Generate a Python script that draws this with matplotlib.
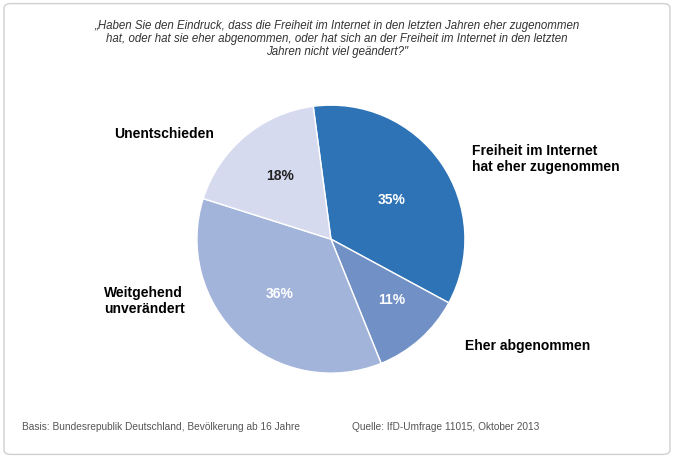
import matplotlib.pyplot as plt
from matplotlib.patches import FancyBboxPatch

labels = ["Freiheit im Internet\nhat eher zugenommen", "Eher abgenommen", "Weitgehend\nunverändert", "Unentschieden"]
values = [35, 11, 36, 18]
pct_labels = ["35%", "11%", "36%", "18%"]
colors = ["#2e73b5", "#7090c6", "#a3b4da", "#d5daef"]
pct_colors = ["white", "white", "white", "#222222"]

plt.rcParams['font.family'] = ['Liberation Sans', 'DejaVu Sans']
fig = plt.figure(figsize=(6.74, 4.6), dpi=100)
fig.patch.set_facecolor("white")
fig.patches.append(FancyBboxPatch((0.006, 0.01), 0.988, 0.98, boxstyle="round,pad=0,rounding_size=0.01",
                                  transform=fig.transFigure, facecolor="white", edgecolor="#d0d0d0", lw=1,
                                  zorder=-10))

ax = fig.add_axes([0.491 - 0.199, 0.478 - 0.2913, 0.398, 0.5826], zorder=5)
ax.patch.set_alpha(0)
wedges, _ = ax.pie(values, colors=colors, startangle=97.6, counterclock=False,
                   wedgeprops=dict(edgecolor="white", linewidth=1))
pct_pos = [(0.45, 0.3), (0.45, -0.45), (-0.38, -0.4), (-0.38, 0.48)]
for (x, y), t, c in zip(pct_pos, pct_labels, pct_colors):
    ax.text(x, y, t, ha="center", va="center", fontsize=10, fontweight="bold", color=c)
ax.set_xlim(-1, 1); ax.set_ylim(-1, 1)

fig.text(0.70, 0.655, labels[0], fontsize=10, fontweight="bold", ha="left", va="center", linespacing=1.2)
fig.text(0.69, 0.248, labels[1], fontsize=10, fontweight="bold", ha="left", va="center")
fig.text(0.155, 0.345, labels[2], fontsize=10, fontweight="bold", ha="left", va="center", linespacing=1.2)
fig.text(0.17, 0.708, labels[3], fontsize=10, fontweight="bold", ha="left", va="center")

fig.text(0.5, 0.915, "„Haben Sie den Eindruck, dass die Freiheit im Internet in den letzten Jahren eher zugenommen\n"
         "hat, oder hat sie eher abgenommen, oder hat sich an der Freiheit im Internet in den letzten\n"
         "Jahren nicht viel geändert?\"", fontsize=8.3, style="italic", ha="center", va="center",
         color="#333333", linespacing=1.15)
fig.text(0.033, 0.072, "Basis: Bundesrepublik Deutschland, Bevölkerung ab 16 Jahre", fontsize=7.3, color="#555555", va="center")
fig.text(0.522, 0.072, "Quelle: IfD-Umfrage 11015, Oktober 2013", fontsize=7.3, color="#555555", va="center")

fig.savefig("out.png", dpi=100)
